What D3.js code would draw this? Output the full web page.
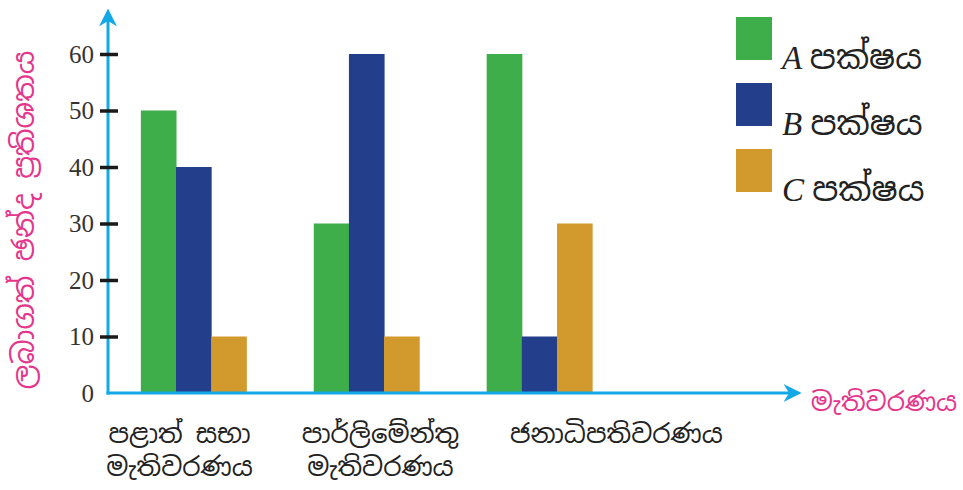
<!DOCTYPE html>
<html>
<head>
<meta charset="utf-8">
<script src="https://cdn.jsdelivr.net/npm/d3@7"></script>
<style>
  body { margin: 0; background: #fff; }
  svg { display: block; }
</style>
</head>
<body>
<div id="chart"></div>
<script>

// data
var elections = ["පළාත් සභා මැතිවරණය", "පාර්ලිමේන්තු මැතිවරණය", "ජනාධිපතිවරණය"];
var labelLines = [["පළාත් සභා", "මැතිවරණය"], ["පාර්ලිමේන්තු", "මැතිවරණය"], ["ජනාධිපතිවරණය"]];
var parties = ["A", "B", "C"];
var partyA = [50, 30, 60];
var partyB = [40, 60, 10];
var partyC = [10, 10, 30];
var yTicks = [0, 10, 20, 30, 40, 50, 60];
var yTitle = "ලබාගත් ඡන්ද ප්‍රතිශතය";
var xTitle = "මැතිවරණය";
var partyWord = "පක්ෂය";

var colors = ["#3dae49", "#233f8b", "#d29a2c"];
var axisBlue = "#13a9e6";
var pink = "#e4368c";
var sinhala = "'Noto Sans Sinhala', 'Iskoola Pota', 'Noto Sans', sans-serif";

var width = 963, height = 490;
var x0 = 108, y0 = 393;

var svg = d3.select("#chart").append("svg")
    .attr("width", width)
    .attr("height", height);

var y = d3.scaleLinear().domain([0, 60]).range([y0, 54]);

var x = d3.scaleBand().domain(elections)
    .range([x0, 625])
    .paddingInner(0.39)
    .paddingOuter(0.19);

var xs = d3.scaleBand().domain(parties).range([0, x.bandwidth()]);

var series = [partyA, partyB, partyC];

// bars
elections.forEach(function(e, i) {
  var g = svg.append("g").attr("transform", "translate(" + x(e) + ",0)");
  parties.forEach(function(p, j) {
    g.append("rect")
        .attr("x", xs(p))
        .attr("y", y(series[j][i]))
        .attr("width", xs.bandwidth() + 0.5)
        .attr("height", y0 - y(series[j][i]))
        .style("fill", colors[j]);
  });
});

// arrow marker
var defs = svg.append("defs");
defs.append("marker")
    .attr("id", "arrow")
    .attr("viewBox", "0 0 10 10")
    .attr("refX", 8).attr("refY", 5)
    .attr("markerWidth", 6).attr("markerHeight", 6)
    .attr("markerUnits", "strokeWidth")
    .attr("orient", "auto")
  .append("path")
    .attr("d", "M0,0 L10,5 L0,10 L3,5 Z")
    .style("fill", axisBlue);

// axes lines
svg.append("line")
    .attr("x1", x0).attr("y1", y0 + 1.5)
    .attr("x2", x0).attr("y2", 12)
    .style("stroke", axisBlue).style("stroke-width", 3)
    .attr("marker-end", "url(#arrow)");
svg.append("line")
    .attr("x1", x0 - 1.5).attr("y1", y0)
    .attr("x2", 798).attr("y2", y0)
    .style("stroke", axisBlue).style("stroke-width", 3)
    .attr("marker-end", "url(#arrow)");

// y ticks
var yAxis = d3.axisLeft(y).tickValues(yTicks).tickSize(0).tickPadding(14);
var ya = svg.append("g").attr("transform", "translate(" + x0 + ",0)").call(yAxis);
ya.select(".domain").remove();
ya.selectAll(".tick text")
    .style("font-family", "'Liberation Serif', serif")
    .style("font-size", "25px")
    .style("fill", "#333");
ya.selectAll(".tick")
  .filter(function(d) { return d > 0; })
  .append("line")
    .attr("x1", -8).attr("x2", 10)
    .style("stroke", "#1a1a1a").style("stroke-width", 3.5);

// category labels (shifted a bit like in the printed figure)
var labelDx = [-14, 14, 77];
elections.forEach(function(e, i) {
  var t = svg.append("text")
      .attr("text-anchor", "middle")
      .attr("transform", "translate(" + (x(e) + x.bandwidth() / 2 + labelDx[i]) + ",443)")
      .style("font-family", sinhala)
      .style("font-size", "26px")
      .style("fill", "#222");
  labelLines[i].forEach(function(line, k) {
    t.append("tspan").text(line).attr("x", 0).attr("dy", k ? "1.25em" : 0);
  });
});

// axis titles
svg.append("text")
    .attr("transform", "translate(34,220) rotate(-90)")
    .attr("text-anchor", "middle")
    .style("font-family", sinhala)
    .style("font-size", "29px")
    .style("fill", pink)
    .text(yTitle);
svg.append("text")
    .attr("x", 884).attr("y", 411)
    .attr("text-anchor", "middle")
    .style("font-family", sinhala)
    .style("font-size", "26px")
    .style("fill", pink)
    .text(xTitle);

// legend
var legend = svg.append("g").attr("transform", "translate(736,17)");
parties.forEach(function(p, j) {
  var row = legend.append("g").attr("transform", "translate(0," + j * 66 + ")");
  row.append("rect")
      .attr("width", 36).attr("height", 43)
      .style("fill", colors[j]);
  var t = row.append("text")
      .attr("x", 46).attr("y", 52)
      .style("font-size", "33px")
      .style("fill", "#222");
  t.append("tspan").text(p + " ")
      .style("font-family", "'Liberation Serif', serif")
      .style("font-style", "italic");
  t.append("tspan").text(partyWord)
      .style("font-family", sinhala);
});

</script>
</body>
</html>
